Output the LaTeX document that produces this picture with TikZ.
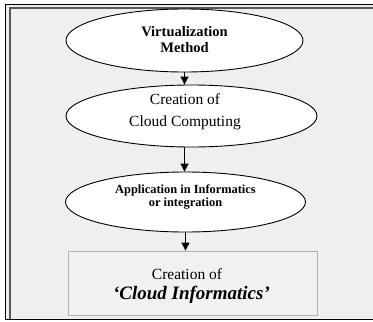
\documentclass[tikz,border=0pt]{standalone}
\usepackage{fontspec}
\setmainfont{Liberation Serif}
\usetikzlibrary{shapes.geometric,arrows.meta}
\definecolor{panel}{HTML}{EFEFEF}
\definecolor{boxfill}{HTML}{F1F1F1}

\begin{document}
\begin{tikzpicture}[x=1pt,y=-1pt,
	oval/.style={ellipse, draw=black, line width=0.9pt, fill=white, inner sep=0pt},
	txt/.style={align=center, inner sep=0pt},
	arr/.style={-{Triangle[length=8pt,width=8pt]}, line width=0.9pt}]
	\useasboundingbox (0,0) rectangle (373,322);
	\fill[white] (0,0) rectangle (373,322);
	% frame
	\fill[panel] (5.5,4.5) rectangle (380,319.5);
	\draw[line width=1.2pt] (380,4.5) -- (5.5,4.5) -- (5.5,319.5) -- (380,319.5);
	\draw[line width=1.4pt, gray!70!black] (380,7.8) -- (9.8,7.8) -- (9.8,318.5);
	
	\node[oval, minimum width=237, minimum height=63] (virt) at (184.5,40.5) {};
	\node[txt, font=\fontsize{14.5}{16.5}\selectfont\bfseries] (virttxt) at (184.5,39.5) {Virtualization\\Method};
	
	\node[oval, minimum width=251, minimum height=62] (cloud) at (191.5,116) {};
	\node[txt, font=\fontsize{15.5}{22}\selectfont] (cloudtxt) at (185,111.5) {Creation of\\Cloud Computing};
	
	\node[oval, minimum width=240, minimum height=60] (appl) at (185.5,202) {};
	\node[txt, font=\fontsize{12.4}{13.5}\selectfont\bfseries] (appltxt) at (185.5,197) {Application in Informatics\\or integration};
	
	\node[draw=gray!60, line width=0.8pt, fill=boxfill, minimum width=249, minimum height=64, inner sep=0pt] (info) at (192.5,283) {};
	\node[txt, font=\fontsize{15.5}{16}\selectfont] (infotop) at (187,274.5) {Creation of};
	\node[txt, font=\fontsize{19}{20}\selectfont\bfseries\itshape] (infoname) at (191.5,295) {‘Cloud Informatics’};
	
	\draw[arr] (virt.south) -- (virt.south |- cloud.north);
	\draw[arr] (virt.south |- cloud.south) -- (virt.south |- appl.north);
	\draw[arr] (appl.south) -- (appl.south |- info.north);
\end{tikzpicture}
\end{document}
